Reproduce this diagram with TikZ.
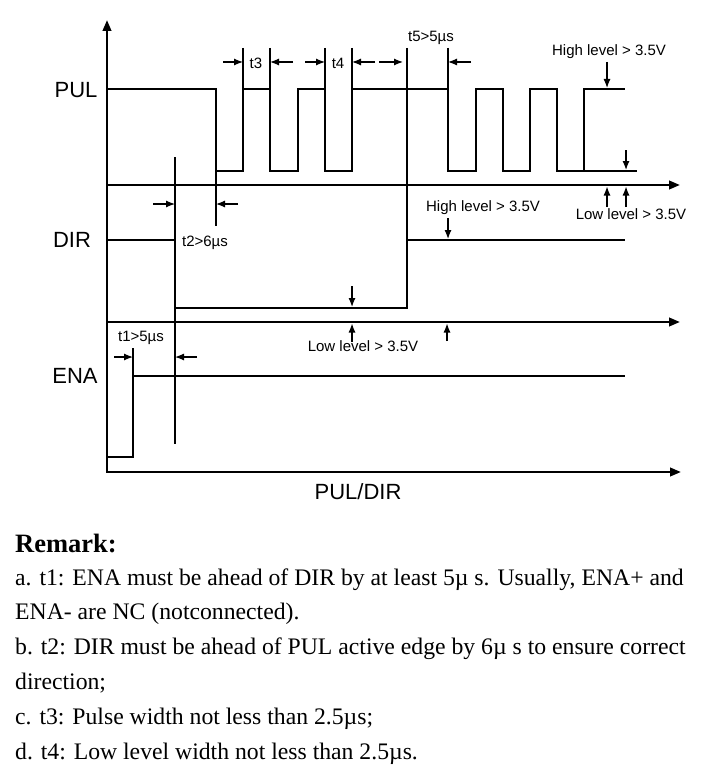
\documentclass[tikz,border=0pt]{standalone}
\usepackage{fontspec}
\setmainfont{Liberation Serif}
\newfontfamily\arialf{Liberation Sans}
\usetikzlibrary{arrows.meta}
\begin{document}
\begin{tikzpicture}[x=1pt,y=-1pt,
  sig/.style={line width=2.4pt, line join=miter},
  axisline/.style={line width=2.4pt},
  guide/.style={line width=1.2pt},
  marker/.style={line width=1.2pt, -{Latex[length=9pt,width=7pt]}},
  axtip/.style={-{Triangle[length=11pt,width=8.5pt]}},
  big/.style={font=\arialf\fontsize{22}{24}\selectfont, inner sep=0pt},
  small/.style={font=\arialf\fontsize{15}{17}\selectfont, inner sep=0pt},
  remark/.style={font=\fontsize{23.7}{27}\selectfont, anchor=base west, inner sep=0pt}
]
\useasboundingbox (0,0) rectangle (711,781);

% axes
\coordinate (ytop) at (107,20);
\coordinate (orig) at (107,472);
\coordinate (xend) at (681,472);
\coordinate (pulax0) at (107,185);
\coordinate (pulax1) at (680,185);
\coordinate (dirax0) at (107,322);
\coordinate (dirax1) at (680,322);
\draw[axisline, {Triangle[length=11pt,width=8.5pt]}-{Triangle[length=11pt,width=8.5pt]}] (ytop) -- (orig) -- (xend);
\draw[axisline, axtip] (pulax0) -- (pulax1);
\draw[axisline, axtip] (dirax0) -- (dirax1);

% PUL signal
\draw[sig] (107,89) -- (216,89) -- (216,171) -- (243,171) -- (243,89) -- (270,89) -- (270,171)
  -- (298,171) -- (298,89) -- (325,89) -- (325,171) -- (352,171) -- (352,89) -- (448,89)
  -- (448,171) -- (476,171) -- (476,89) -- (503,89) -- (503,171) -- (530,171) -- (530,89)
  -- (557,89) -- (557,171) -- (584,171) -- (584,89) -- (625,89);
\draw[line width=1.6pt] (584,171) -- (637,171);

% DIR signal
\draw[sig] (107,240) -- (175,240) -- (175,308) -- (407,308) -- (407,240) -- (625,240);

% ENA signal
\draw[sig] (107,457) -- (133,457) -- (133,376) -- (625,376);

% guide lines
\draw[guide] (175,157) -- (175,444);
\draw[guide] (216,171) -- (216,226);
\draw[guide] (243,48) -- (243,89);
\draw[guide] (270,48) -- (270,89);
\draw[guide] (325,48) -- (325,89);
\draw[guide] (352,48) -- (352,89);
\draw[guide] (448,48) -- (448,89);
\draw[guide] (407,48) -- (407,240);
\draw[guide] (133,348) -- (133,376);

% timing markers
\draw[marker] (223,62) -- (243,62);
\draw[marker] (293,62) -- (270,62);
\draw[marker] (305,62) -- (325,62);
\draw[marker] (375,62) -- (352,62);
\draw[marker] (379,62) -- (403,62);
\draw[marker] (471,62) -- (448,62);
\draw[marker] (153,204) -- (175,204);
\draw[marker] (238,204) -- (216,204);
\draw[marker] (114,357) -- (133,357);
\draw[marker] (197,357) -- (175,357);

% level markers
\draw[marker] (607,62) -- (607,88);
\draw[marker] (626,150) -- (626,170);
\draw[marker] (607,207) -- (607,186.5);
\draw[marker] (626,207) -- (626,186.5);
\draw[marker] (448,218) -- (448,239);
\draw[marker] (352,286) -- (352,307);
\draw[marker] (352,342) -- (352,323.5);
\draw[marker] (447,341) -- (447,323.5);

% labels
\node[big] (lpul) at (76,90) {PUL};
\node[big] (ldir) at (72,240) {DIR};
\node[big] (lena) at (75,376) {ENA};
\node[big] (lpd) at (358,492) {PUL/DIR};
\node[small] (lt3) at (256,63) {t3};
\node[small] (lt4) at (338,63) {t4};
\node[small] (lt5) at (431,38) {t5>5µs};
\node[small] (lhi1) at (609,52) {High level > 3.5V};
\node[small] (llo1) at (631,214) {Low level > 3.5V};
\node[small] (lhi2) at (483,208) {High level > 3.5V};
\node[small] (lt2) at (205,243) {t2>6µs};
\node[small] (llo2) at (363,346) {Low level > 3.5V};
\node[small] (lt1) at (141,338) {t1>5µs};

% remarks
\node[remark, font=\bfseries\fontsize{26.5}{30}\selectfont] (rem) at (15,552) {Remark:};
\node[remark] (ra) at (15,585) {a. t1: ENA must be ahead of DIR by at least 5µ s. Usually, ENA+ and};
\node[remark] (ra2) at (15,619) {ENA- are NC (notconnected).};
\node[remark] (rb) at (15,654) {b. t2: DIR must be ahead of PUL active edge by 6µ s to ensure correct};
\node[remark] (rb2) at (15,689) {direction;};
\node[remark] (rc) at (15,724) {c. t3: Pulse width not less than 2.5µs;};
\node[remark] (rd) at (15,759) {d. t4: Low level width not less than 2.5µs.};
\end{tikzpicture}
\end{document}
